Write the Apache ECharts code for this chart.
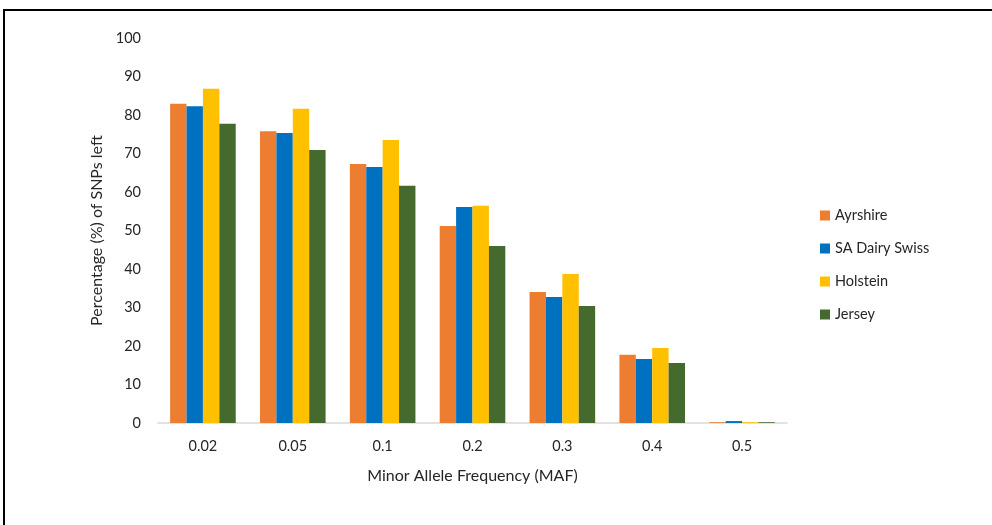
<!DOCTYPE html>
<html><head><meta charset="utf-8">
<script src="https://cdn.jsdelivr.net/npm/echarts@6/dist/echarts.min.js"></script>
<style>html,body{margin:0;padding:0;background:#fff}#c{width:992px;height:525px}</style>
</head><body><div id="c"></div>
<script>
const categories = ['0.02','0.05','0.1','0.2','0.3','0.4','0.5'];
const ayrshire = [82.9, 75.8, 67.3, 51.2, 34.0, 17.7, 0.2];
const saDairySwiss = [82.3, 75.3, 66.5, 56.1, 32.7, 16.6, 0.5];
const holstein = [86.8, 81.6, 73.5, 56.4, 38.7, 19.5, 0.2];
const jersey = [77.7, 70.9, 61.6, 46.0, 30.4, 15.6, 0.2];
const seriesNames = ['Ayrshire','SA Dairy Swiss','Holstein','Jersey'];
const colors = ['#ED7D31','#0070C0','#FFC000','#456A2E'];
const font = 'Lato, "Open Sans", sans-serif';
const chart = echarts.init(document.getElementById('c'));
const data = [ayrshire, saDairySwiss, holstein, jersey];
chart.setOption({
  animation: false,
  color: colors,
  graphic: [{type:'rect', shape:{x:4,y:10,width:1000,height:600}, style:{fill:'none',stroke:'#000',lineWidth:2}, silent:true}],
  grid: {left:158, right:205, top:38, bottom:102},
  legend: {
    orient:'vertical', left:815, top:202, itemGap:16, itemWidth:10, itemHeight:10,
    icon:'rect', textStyle:{fontFamily:font, fontSize:14.5, color:'#262626', lineHeight:17}, data: seriesNames
  },
  xAxis: {
    type:'category', data:categories,
    name:'Minor Allele Frequency (MAF)', nameLocation:'middle', nameGap:45,
    nameTextStyle:{fontFamily:font, fontSize:16, color:'#262626'},
    axisLine:{lineStyle:{color:'#d9d9d9', width:1.5}}, axisTick:{show:false},
    axisLabel:{fontFamily:font, fontSize:14.5, color:'#262626', margin:16}
  },
  yAxis: {
    type:'value', min:0, max:100, interval:10,
    name:'Percentage (%) of SNPs left', nameLocation:'middle', nameGap:47, nameRotate:90,
    nameTextStyle:{fontFamily:font, fontSize:16, color:'#262626'},
    axisLine:{show:false}, axisTick:{show:false}, splitLine:{show:false},
    axisLabel:{fontFamily:font, fontSize:14.5, color:'#262626', margin:17}
  },
  series: seriesNames.map((n,i)=>({
    name:n, type:'bar', data:data[i], barGap:'0%', barCategoryGap:'27%'
  }))
});
</script></body></html>
